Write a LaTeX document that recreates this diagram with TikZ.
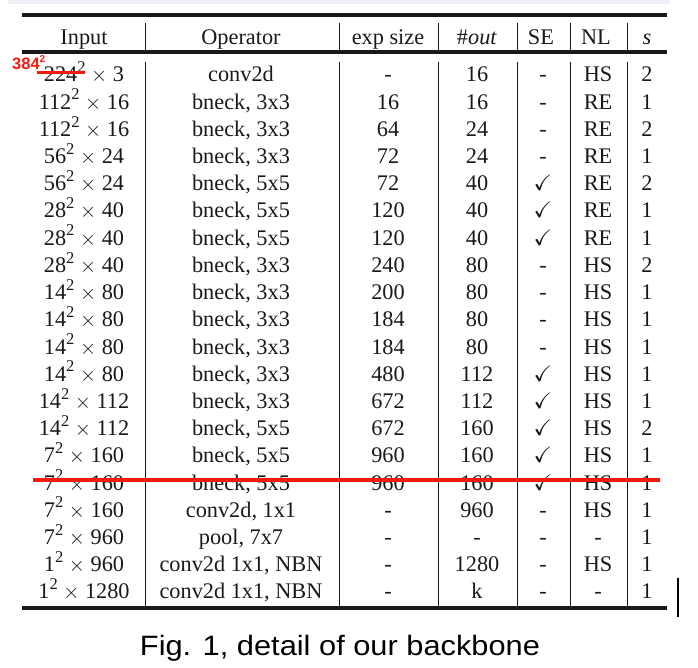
\documentclass[tikz,border=0pt]{standalone}
\usepackage{amssymb}
\usepackage{fontspec}
\setmainfont{Liberation Serif}
\newfontfamily\capfont{Liberation Sans}
\definecolor{txt}{RGB}{25,25,25}
\definecolor{redmk}{RGB}{245,25,15}
\definecolor{topstrip}{RGB}{236,240,244}
\newcommand{\sqx}[2]{#1\raisebox{0.42em}{\fontsize{16.5}{16.5}\selectfont 2}\hspace{0.25em}$\times$\hspace{0.25em}#2}
\newcommand{\ck}{$\checkmark$}
\begin{document}
\begin{tikzpicture}[x=1pt,y=-1pt,
  cell/.style={anchor=base, inner sep=0pt, text=txt, font=\fontsize{22.3}{26}\selectfont},
  rulethick/.style={line width=4pt, draw=txt},
  rulemid/.style={line width=3.5pt, draw=txt},
  sepline/.style={line width=0.9pt, draw=txt},
  redbig/.style={draw=redmk, line width=4.5pt},
  redthin/.style={draw=redmk, line width=2.8pt},
  redtext/.style={anchor=base west, inner sep=0pt, text=redmk, font=\capfont\bfseries\fontsize{16.5}{18}\selectfont},
  captext/.style={anchor=base, inner sep=0pt, text=black, font=\capfont\fontsize{28}{32}\selectfont}]
\useasboundingbox (0,0) rectangle (698,668);
\fill[topstrip] (8,0) rectangle (670,4);
% rules
\draw[rulethick] (22,15.5) -- (667,15.5);
\draw[rulemid] (22,52) -- (667,52);
\draw[rulethick] (22,607.5) -- (667,607.5);
% vertical separators
\foreach \xx in {145,339,438,517,570,627} {
  \draw[sepline] (\xx,23) -- (\xx,50);
  \draw[sepline] (\xx,62) -- (\xx,606);
}
% header
\foreach \t/\xx [count=\c] in {Input/84, Operator/241, exp size/388, \#\textit{out}/477, SE/541, NL/596, \textit{s}/647}
  \node[cell] (h\c) at (\xx,45) {\t};
% body
\foreach \inp/\op/\ex/\ou/\sev/\nlv/\st [count=\r] in {
  {\sqx{224}{3}}/conv2d/-/16/-/HS/2,
  {\sqx{112}{16}}/{bneck, 3x3}/16/16/-/RE/1,
  {\sqx{112}{16}}/{bneck, 3x3}/64/24/-/RE/2,
  {\sqx{56}{24}}/{bneck, 3x3}/72/24/-/RE/1,
  {\sqx{56}{24}}/{bneck, 5x5}/72/40/\ck/RE/2,
  {\sqx{28}{40}}/{bneck, 5x5}/120/40/\ck/RE/1,
  {\sqx{28}{40}}/{bneck, 5x5}/120/40/\ck/RE/1,
  {\sqx{28}{40}}/{bneck, 3x3}/240/80/-/HS/2,
  {\sqx{14}{80}}/{bneck, 3x3}/200/80/-/HS/1,
  {\sqx{14}{80}}/{bneck, 3x3}/184/80/-/HS/1,
  {\sqx{14}{80}}/{bneck, 3x3}/184/80/-/HS/1,
  {\sqx{14}{80}}/{bneck, 3x3}/480/112/\ck/HS/1,
  {\sqx{14}{112}}/{bneck, 3x3}/672/112/\ck/HS/1,
  {\sqx{14}{112}}/{bneck, 5x5}/672/160/\ck/HS/2,
  {\sqx{7}{160}}/{bneck, 5x5}/960/160/\ck/HS/1,
  {\sqx{7}{160}}/{bneck, 5x5}/960/160/\ck/HS/1,
  {\sqx{7}{160}}/{conv2d, 1x1}/-/960/-/HS/1,
  {\sqx{7}{960}}/{pool, 7x7}/-/-/-/-/1,
  {\sqx{1}{960}}/{conv2d 1x1, NBN}/-/1280/-/HS/1,
  {\sqx{1}{1280}}/{conv2d 1x1, NBN}/-/k/-/-/1} {
  \pgfmathsetmacro\yy{82+(\r-1)*27.2}
  \node[cell] (r\r-1) at (84,\yy) {\inp};
  \node[cell] (r\r-2) at (241,\yy) {\op};
  \node[cell] (r\r-3) at (388,\yy) {\ex};
  \node[cell] (r\r-4) at (477,\yy) {\ou};
  \node[cell] (r\r-5) at (543,\yy) {\sev};
  \node[cell] (r\r-6) at (598,\yy) {\nlv};
  \node[cell] (r\r-7) at (647,\yy) {\st};
}
% red annotations
\node[redtext] (ann) at (12,70) {384\raisebox{0.45em}{\fontsize{10}{10}\selectfont 2}};
\coordinate (s1) at (37,72.5);
\coordinate (s2) at (85,72.5);
\draw[redthin] (s1) -- (s2);
\coordinate (b1) at (33,480);
\coordinate (b2) at (660,480);
\draw[redbig] (b1) -- (b2);
% right bar
\coordinate (v1) at (678,578);
\coordinate (v2) at (678,617);
\draw[line width=2pt, draw=black] (v1) -- (v2);
% caption
\node[captext] (cap) at (340,655) {\scalebox{1.1}[1]{Fig. 1, detail of our backbone}};
\end{tikzpicture}
\end{document}
